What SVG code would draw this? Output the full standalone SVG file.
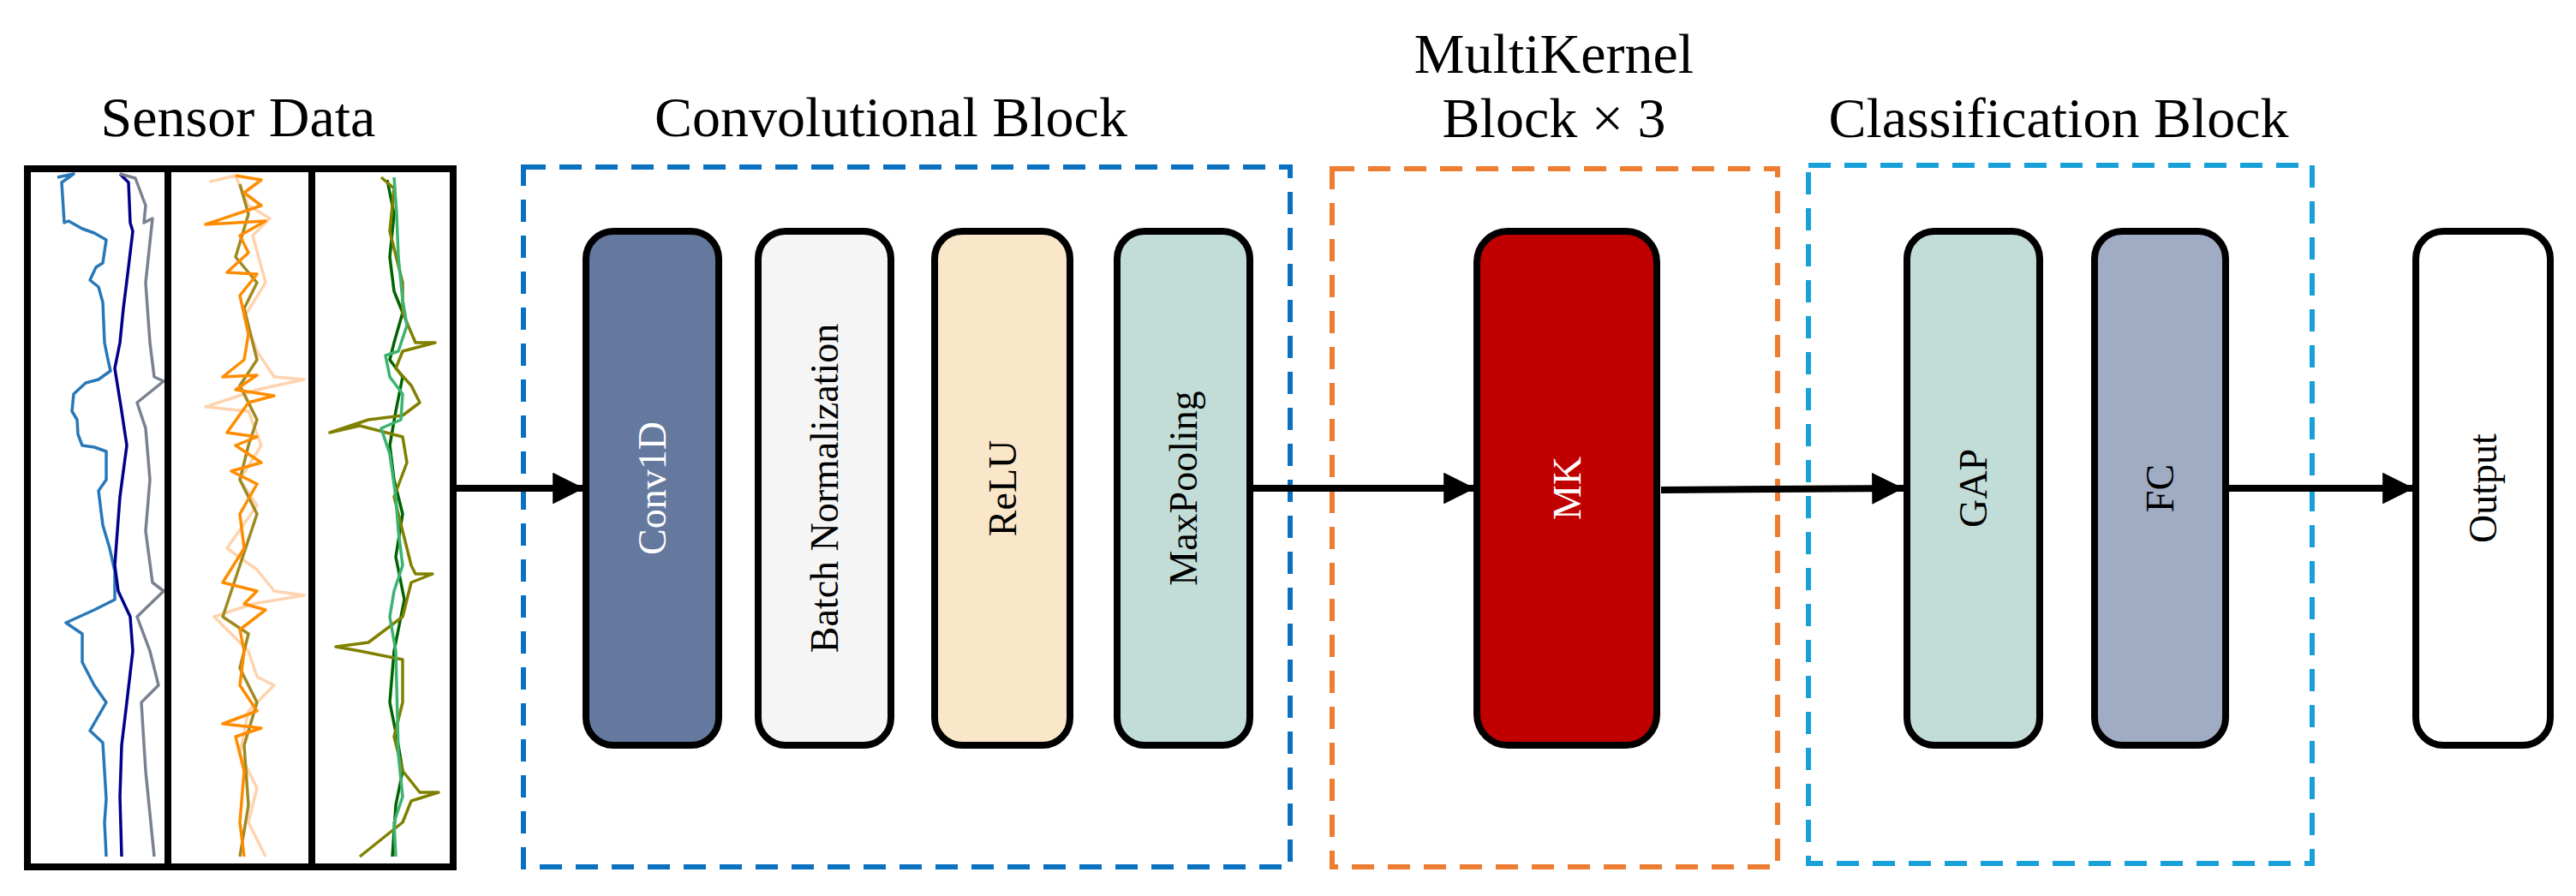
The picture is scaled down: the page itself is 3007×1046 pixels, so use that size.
<svg xmlns="http://www.w3.org/2000/svg" width="3007" height="1046" viewBox="0 0 3007 1046">
<style>
.t{font-family:"Liberation Serif","DejaVu Serif",serif;font-size:66px;fill:#000;text-anchor:middle}
.l{font-family:"Liberation Serif","DejaVu Serif",serif;font-size:46px;text-anchor:middle;dominant-baseline:central}
.n{stroke:#000;stroke-width:8}
.c{stroke:#000;stroke-width:8;fill:none}
.w{fill:none;stroke-width:3.5;stroke-linejoin:round}
</style>
<defs>
<marker id="ah" viewBox="0 0 10 10" refX="10" refY="5" markerWidth="4.6" markerHeight="4.6" markerUnits="strokeWidth" orient="auto"><path d="M0,0L10,5L0,10Z" fill="#000"/></marker>
</defs>
<rect width="3007" height="1046" fill="#fff"/>
<text class="t" x="278" y="159">Sensor Data</text>
<text class="t" x="1040" y="159">Convolutional Block</text>
<text class="t" x="1814" y="85">MultiKernel</text>
<text class="t" x="1814" y="160">Block × 3</text>
<text class="t" x="2403" y="160">Classification Block</text>
<g id="sensor">
<polyline class="w" stroke="#2878B8" points="67,207 86,203 72,213 75,260 80,258 96,267 110,272 124,280 120,307 112,312 105,327 115,335 120,353 122,400 126,420 129,433 115,443 100,447 86,460 84,480 90,490 91,507 96,520 110,522 124,527 124,560 115,573 120,613 128,640 134,667 134,700 110,712 77,727 96,740 96,773 110,800 124,820 105,853 120,867 124,933 122,960 124,1000"/>
<polyline class="w" stroke="#00008B" points="140,203 150,213 152,260 155,270 149,320 144,360 140,400 134,430 142,480 148,520 140,580 134,660 138,690 152,720 155,760 148,820 142,870 140,930 142,1000"/>
<polyline class="w" stroke="#7A8290" points="140,203 158,208 170,240 168,260 178,255 170,330 175,400 180,440 191,445 160,470 170,500 175,560 170,620 178,680 191,690 160,720 175,760 185,800 165,820 170,900 180,1000"/>
<polyline class="w" stroke="#FFD3AE" points="245,212 275,205 290,240 315,255 295,275 310,330 285,370 300,410 320,440 355,443 300,455 240,475 290,480 305,520 280,560 300,590 265,640 300,665 320,690 355,695 295,705 250,720 290,760 300,790 320,800 290,830 280,880 300,920 290,960 310,1000"/>
<polyline class="w" stroke="#A08A20" points="280,215 290,250 275,300 300,330 285,360 300,420 280,450 300,490 290,520 280,560 300,600 260,720 290,740 280,780 300,820 285,870 290,940 280,1000"/>
<polyline class="w" stroke="#FF8C00" points="275,205 305,210 285,225 305,240 240,262 310,258 280,275 290,295 265,318 300,320 280,345 290,390 285,420 260,440 300,438 275,455 320,462 290,470 265,505 300,510 275,520 305,540 270,550 300,565 280,600 285,640 260,680 300,690 285,705 310,712 280,735 285,760 280,800 300,830 260,845 305,850 275,860 285,900 280,960 285,1000"/>
<polyline class="w" stroke="#006400" points="452,210 460,250 455,300 460,340 470,365 460,400 455,420 470,440 462,480 455,520 460,560 470,600 462,650 472,700 460,760 455,820 465,870 470,900 462,940 458,1000"/>
<polyline class="w" stroke="#808000" points="445,207 460,220 455,270 470,330 470,365 485,400 508,400 470,410 462,430 480,450 490,470 470,485 430,490 385,505 420,497 470,510 475,540 460,580 470,620 480,660 485,670 505,670 480,680 470,720 430,750 392,755 420,760 470,770 470,820 460,860 470,900 490,925 512,925 480,935 470,960 420,1000"/>
<polyline class="w" stroke="#3CB371" points="460,207 463,250 465,300 470,350 475,380 465,410 450,415 455,440 470,460 468,490 445,500 455,530 462,580 465,620 470,660 460,690 455,720 462,760 463,800 465,880 470,930 460,960 462,1000"/>
<rect x="32" y="197" width="497" height="815" class="c"/>
<line x1="196" y1="197" x2="196" y2="1012" class="n"/>
<line x1="364" y1="197" x2="364" y2="1012" class="n"/>
</g>
<g id="groups" fill="none" stroke-width="6" stroke-dasharray="26,16">
<rect id="conv-block" x="611" y="195" width="895" height="817" stroke="#0A70C0"/>
<rect id="mk-block" x="1555" y="197" width="520" height="815" stroke="#ED7D31"/>
<rect id="cls-block" x="2111" y="193" width="588" height="815" stroke="#18A0D8"/>
</g>
<g id="conv1d"><rect x="684" y="270" width="155" height="600" rx="32" class="n" fill="#65799F"/><text class="l" fill="#fff" transform="translate(761.5,570) rotate(-90)">Conv1D</text></g>
<g id="bn"><rect x="885" y="270" width="155" height="600" rx="32" class="n" fill="#F5F5F5"/><text class="l" transform="translate(962.5,570) rotate(-90)">Batch Normalization</text></g>
<g id="relu"><rect x="1091" y="270" width="158" height="600" rx="32" class="n" fill="#FAE6C8"/><text class="l" transform="translate(1170,570) rotate(-90)">ReLU</text></g>
<g id="maxpool"><rect x="1304" y="270" width="155" height="600" rx="32" class="n" fill="#C2DCD7"/><text class="l" transform="translate(1381.5,570) rotate(-90)">MaxPooling</text></g>
<g id="mk"><rect x="1724" y="270" width="210" height="600" rx="36" class="n" fill="#C00000"/><text class="l" fill="#fff" transform="translate(1829,570) rotate(-90)">MK</text></g>
<g id="gap"><rect x="2226" y="270" width="155" height="600" rx="32" class="n" fill="#C2DCD7"/><text class="l" transform="translate(2303.5,570) rotate(-90)">GAP</text></g>
<g id="fc"><rect x="2445" y="270" width="153" height="600" rx="32" class="n" fill="#A0ACC4"/><text class="l" transform="translate(2521.5,570) rotate(-90)">FC</text></g>
<g id="output"><rect x="2820" y="270" width="157" height="600" rx="32" class="n" fill="#fff"/><text class="l" transform="translate(2898.5,570) rotate(-90)">Output</text></g>
<g id="connectors" stroke="#000" stroke-width="8" fill="none">
<line x1="529" y1="570" x2="682" y2="570" marker-end="url(#ah)"/>
<line x1="1459" y1="570" x2="1722" y2="570" marker-end="url(#ah)"/>
<line x1="1939" y1="572" x2="2222" y2="570" marker-end="url(#ah)"/>
<line x1="2598" y1="570" x2="2818" y2="570" marker-end="url(#ah)"/>
</g>
</svg>
